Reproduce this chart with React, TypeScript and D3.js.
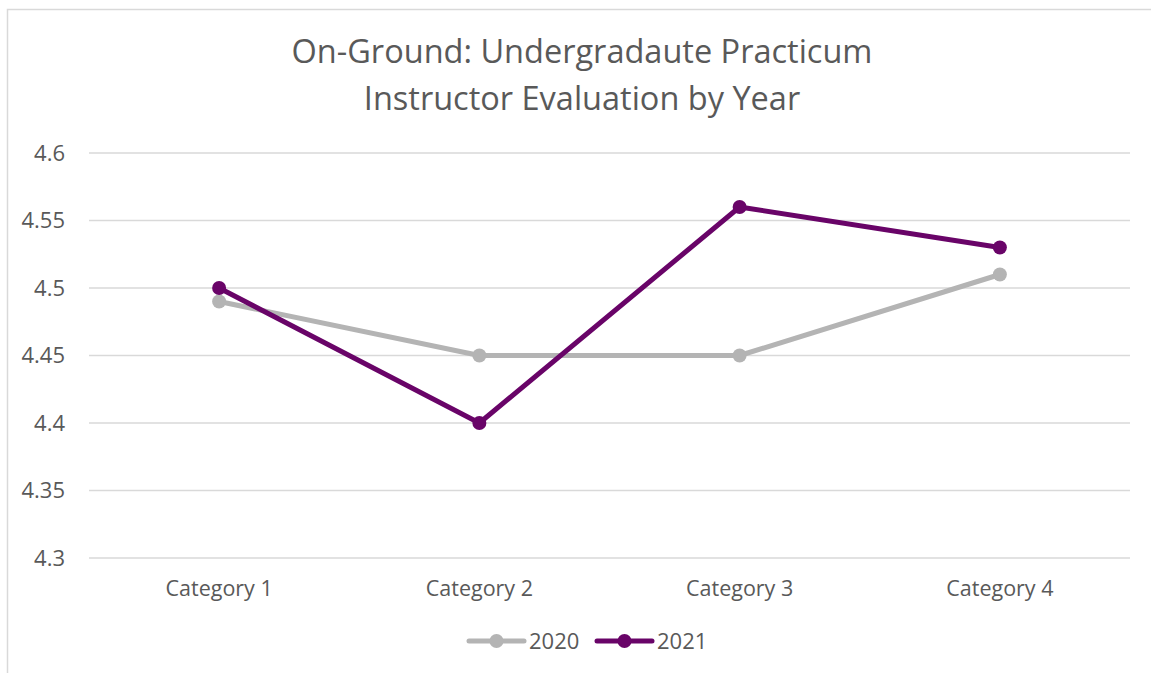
import React from "react";
import * as d3 from "d3";

const categories = ["Category 1", "Category 2", "Category 3", "Category 4"];
const series2020 = [4.49, 4.45, 4.45, 4.51];
const series2021 = [4.5, 4.4, 4.56, 4.53];
const yTicks = [4.3, 4.35, 4.4, 4.45, 4.5, 4.55, 4.6];
const seriesNames = ["2020", "2021"];
const titleLines = ["On-Ground: Undergradaute Practicum", "Instructor Evaluation by Year"];

const W = 1151;
const H = 673;
const font = "'Open Sans', sans-serif";
const textColor = "#595959";
const colors = ["#b4b4b4", "#690468"];

export default function App() {
  const x = d3.scaleBand<string>().domain(categories).range([89, 1130]);
  const y = d3.scaleLinear().domain([4.3, 4.6]).range([558, 153]);
  const line = d3
    .line<number>()
    .x((_, i) => (x(categories[i]) as number) + x.bandwidth() / 2)
    .y((d) => y(d));
  const all = [series2020, series2021];
  return (
    <svg
      width={W}
      height={H}
      style={{ position: "absolute", left: 0, top: 0 }}
    >
      <rect x={0} y={0} width={W} height={H} fill="#fff" />
      <rect x={7.5} y={9.5} width={1160} height={700} fill="#fff" stroke="#d9d9d9" strokeWidth={1.5} />
      {titleLines.map((t, i) => (
        <text
          key={i}
          x={582}
          y={63 + i * 47}
          textAnchor="middle"
          fontFamily={font}
          fontSize={32.5}
          fill={textColor}
        >
          {t}
        </text>
      ))}
      {yTicks.map((t) => (
        <g key={t}>
          <line x1={89} x2={1130} y1={y(t)} y2={y(t)} stroke="#d9d9d9" strokeWidth={1.5} />
          <text
            x={65}
            y={y(t)}
            dy="0.36em"
            textAnchor="end"
            fontFamily={font}
            fontSize={22}
            fill={textColor}
          >
            {d3.format("")(t)}
          </text>
        </g>
      ))}
      {categories.map((c) => (
        <text
          key={c}
          x={(x(c) as number) + x.bandwidth() / 2}
          y={596}
          textAnchor="middle"
          fontFamily={font}
          fontSize={21.5}
          fill={textColor}
        >
          {c}
        </text>
      ))}
      {all.map((s, si) => (
        <g key={si}>
          <path d={line(s) as string} fill="none" stroke={colors[si]} strokeWidth={5} strokeLinejoin="round" />
          {s.map((v, i) => (
            <circle
              key={i}
              cx={(x(categories[i]) as number) + x.bandwidth() / 2}
              cy={y(v)}
              r={7}
              fill={colors[si]}
            />
          ))}
        </g>
      ))}
      {seriesNames.map((n, i) => {
        const lx = 469 + i * 128;
        return (
          <g key={n}>
            <line x1={lx} x2={lx + 55} y1={641} y2={641} stroke={colors[i]} strokeWidth={5} strokeLinecap="round" />
            <circle cx={lx + 27.5} cy={641} r={7} fill={colors[i]} />
            <text x={lx + 60} y={649} fontFamily={font} fontSize={22} fill={textColor}>
              {n}
            </text>
          </g>
        );
      })}
    </svg>
  );
}
